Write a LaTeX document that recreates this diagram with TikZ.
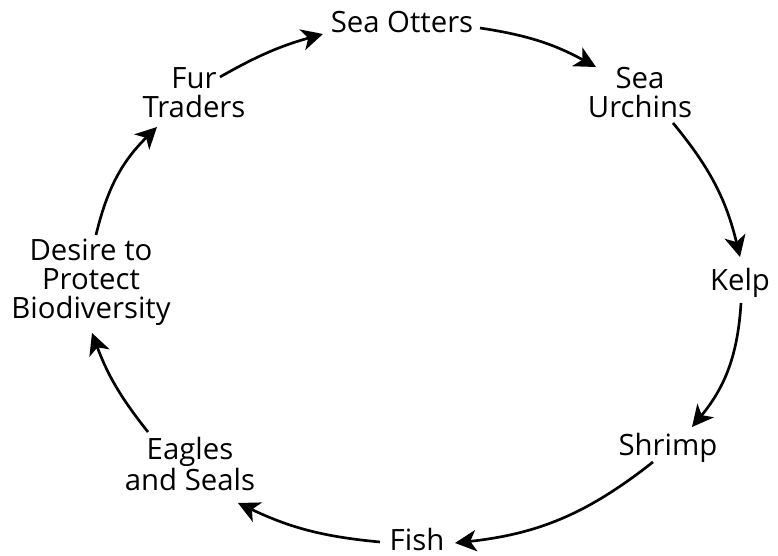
\documentclass[tikz,border=0pt]{standalone}
\usepackage{fontspec}
\setmainfont{Open Sans}
\usepackage{tikz}
\usetikzlibrary{positioning}
\usetikzlibrary{calc}
\usetikzlibrary{arrows.meta}

\tikzset{
  link/.style={font=\fontsize{22}{21.75}\selectfont,align=center,inner sep=0pt,anchor=base},
  cyc/.style={-{Stealth[length=16pt,width=16pt,inset=4.5pt]},line width=2pt}
}

\begin{document}
\begin{tikzpicture}[x=0.75pt,y=-0.75pt]
            \useasboundingbox (0,0) rectangle (778,556);
            \node[link] (otters) at (402,33) {Sea Otters};
            \node[link] (urchins) at (640,118) {Sea\\Urchins};
            \node[link] (kelp) at (740,290) {Kelp};
            \node[link] (shrimp) at (668,455) {Shrimp};
            \node[link] (fish) at (417,550) {Fish};
            \node[link] (eagles) at (190,490) {Eagles\\and Seals};
            \node[link] (desire) at (91,318) {Desire to\\Protect\\Biodiversity};
            \node[link] (fur) at (194,118) {Fur\\Traders};
            % the loop, clockwise
            \draw[cyc] ([shift={(26,-41)}]fur.base) to[bend left=7] ([shift={(-79,1)}]otters.base);
            \draw[cyc] ([shift={(78,-5)}]otters.base) to[bend left=10] ([shift={(-44,-51)}]urchins.base);
            \draw[cyc] ([shift={(33,5)}]urchins.base) to[bend left=13] ([shift={(0,-33)}]kelp.base);
            \draw[cyc] ([shift={(1,13)}]kelp.base) to[bend left=18] ([shift={(24,-28)}]shrimp.base);
            \draw[cyc] ([shift={(-15,7)}]shrimp.base) to[bend left=16] ([shift={(38,-7)}]fish.base);
            \draw[cyc] ([shift={(-37,-8)}]fish.base) to[bend left=10] ([shift={(48,13)}]eagles.base);
            \draw[cyc] ([shift={(-42,-58)}]eagles.base) to[bend left=9] ([shift={(1,15)}]desire.base);
            \draw[cyc] ([shift={(5,-83)}]desire.base) to[bend left=16] ([shift={(-37,9)}]fur.base);
        \end{tikzpicture}
\end{document}
